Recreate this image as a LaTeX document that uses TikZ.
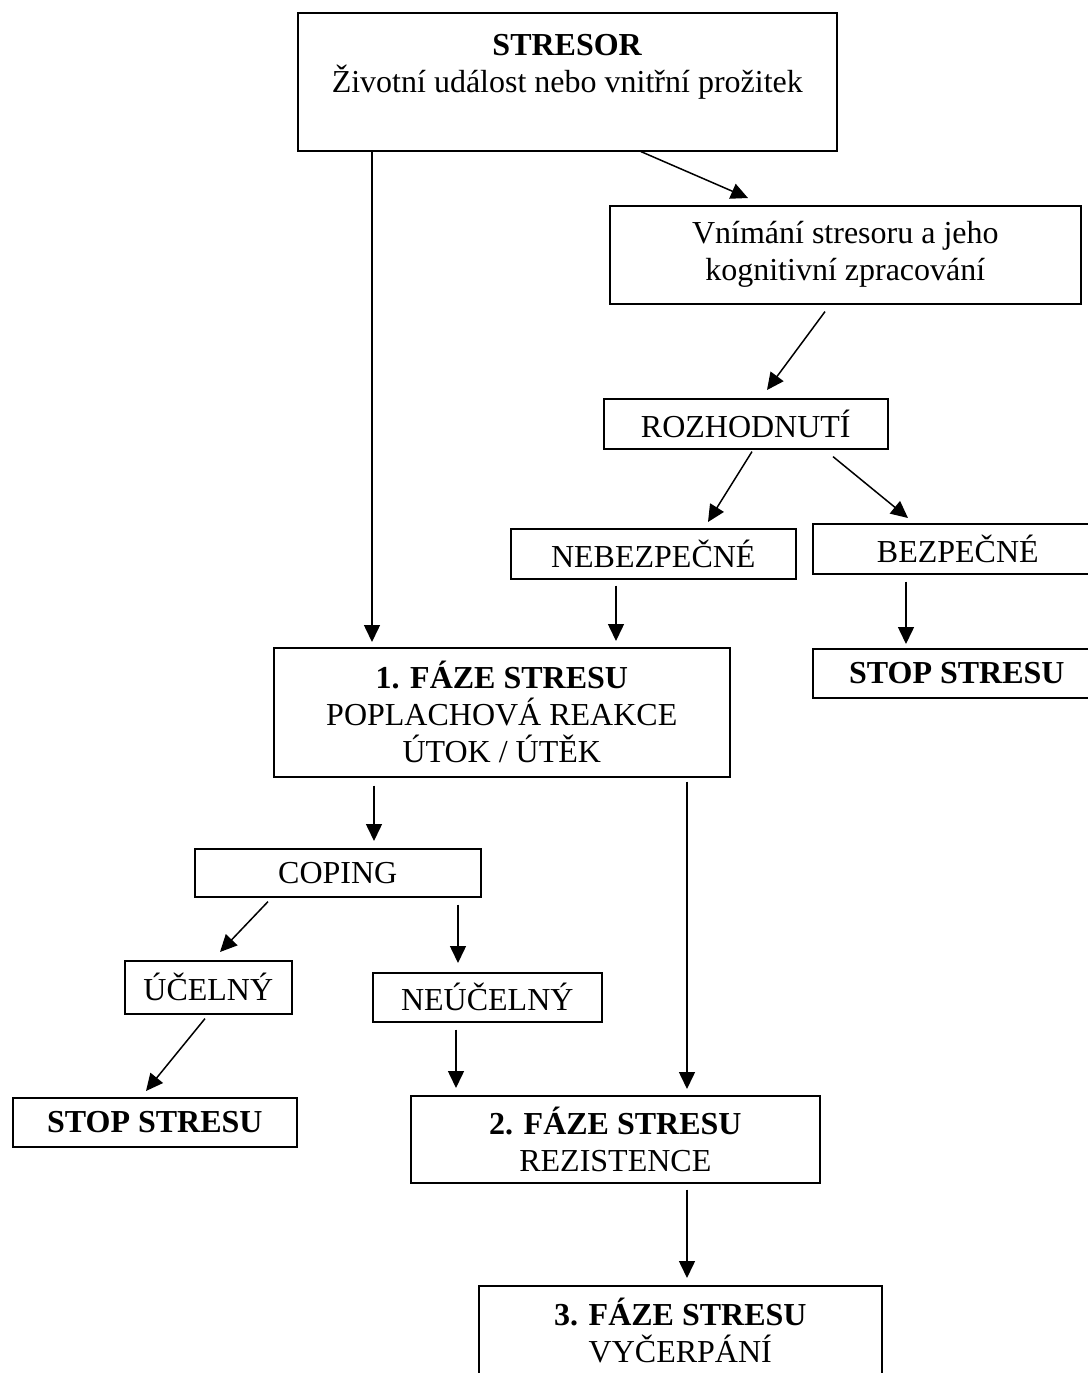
\documentclass[tikz,border=0pt]{standalone}
\usepackage{fontspec}
\setmainfont{Liberation Serif}
\usetikzlibrary{arrows.meta}
\newcommand{\TikZscale}{0.5}
\newcommand{\px}{*\TikZscale pt}
\tikzset{every picture/.style={>={Triangle[length=8.5pt,width=8pt]}}}
\tikzstyle{to}  = [->, line width=0.75pt]
\tikzstyle{box} = [draw, line width=0.8pt, anchor=north west, align=center, inner sep=0pt, font=\fontsize{16}{18.5}\selectfont]

\begin{document}
\begin{tikzpicture}
	\useasboundingbox (0,0) rectangle (1088\px,-1373\px);

	% Stresor a jeho zpracovani
	\node[box, minimum width=539\px, minimum height=138\px] (stresor) at (297\px,-12\px) {\textbf{STRESOR}\\Životní událost nebo vnitřní prožitek\\ \mbox{}};
	\node[box, minimum width=471\px, minimum height=98\px] (vnimani) at (609\px,-205\px) {Vnímání stresoru a jeho\\kognitivní zpracování};
	\node[box, minimum width=284\px, minimum height=50\px] (rozhodnuti) at (603\px,-398\px) {ROZHODNUTÍ};
	\node[box, minimum width=285\px, minimum height=50\px] (nebezpecne) at (510\px,-528\px) {NEBEZPEČNÉ};
	\node[box, minimum width=290\px, minimum height=50\px] (bezpecne) at (812\px,-523\px) {BEZPEČNÉ};
	\node[box, minimum width=288\px, minimum height=49\px] (stopR) at (812\px,-648\px) {\textbf{STOP STRESU}};

	% Faze stresu
	\node[box, minimum width=456\px, minimum height=129\px] (faze1) at (273\px,-647\px) {\textbf{1. FÁZE STRESU}\\POPLACHOVÁ REAKCE\\ÚTOK / ÚTĚK};
	\node[box, minimum width=286\px, minimum height=48\px] (coping) at (194\px,-848\px) {COPING};
	\node[box, minimum width=167\px, minimum height=53\px] (ucelny) at (124\px,-960\px) {ÚČELNÝ};
	\node[box, minimum width=229\px, minimum height=49\px] (neucelny) at (372\px,-972\px) {NEÚČELNÝ};
	\node[box, minimum width=284\px, minimum height=49\px] (stopL) at (12\px,-1097\px) {\textbf{STOP STRESU}};
	\node[box, minimum width=409\px, minimum height=87\px] (faze2) at (410\px,-1095\px) {\textbf{2. FÁZE STRESU}\\REZISTENCE};
	\node[box, minimum width=403\px, minimum height=126\px] (faze3) at (478\px,-1285\px) {\textbf{3. FÁZE STRESU}\\VYČERPÁNÍ\\ \mbox{}};

	% Sipky
	\draw[to] ([xshift=75\px]stresor.south west) -- ([xshift=99\px,yshift=5\px]faze1.north west);
	\draw[to] ([xshift=344\px]stresor.south west) -- ([xshift=139\px,yshift=7\px]vnimani.north west);
	\draw[to] ([xshift=216\px,yshift=-7\px]vnimani.south west) -- ([xshift=164\px,yshift=8\px]rozhodnuti.north west);
	\draw[to] ([xshift=149\px,yshift=-2\px]rozhodnuti.south west) -- ([xshift=198\px,yshift=6\px]nebezpecne.north west);
	\draw[to] ([xshift=230\px,yshift=-7\px]rozhodnuti.south west) -- ([xshift=96\px,yshift=5\px]bezpecne.north west);
	\draw[to] ([xshift=106\px,yshift=-6\px]nebezpecne.south west) -- ([xshift=343\px,yshift=6\px]faze1.north west);
	\draw[to] ([xshift=94\px,yshift=-7\px]bezpecne.south west) -- ([xshift=94\px,yshift=4\px]stopR.north west);
	\draw[to] ([xshift=101\px,yshift=-8\px]faze1.south west) -- ([xshift=180\px,yshift=7\px]coping.north west);
	\draw[to] ([xshift=414\px,yshift=-4\px]faze1.south west) -- ([xshift=277\px,yshift=6\px]faze2.north west);
	\draw[to] ([xshift=74\px,yshift=-4\px]coping.south west) -- ([xshift=96\px,yshift=8\px]ucelny.north west);
	\draw[to] ([xshift=264\px,yshift=-7\px]coping.south west) -- ([xshift=86\px,yshift=9\px]neucelny.north west);
	\draw[to] ([xshift=81\px,yshift=-4\px]ucelny.south west) -- ([xshift=134\px,yshift=6\px]stopL.north west);
	\draw[to] ([xshift=84\px,yshift=-7\px]neucelny.south west) -- ([xshift=46\px,yshift=7\px]faze2.north west);
	\draw[to] ([xshift=277\px,yshift=-6\px]faze2.south west) -- ([xshift=209\px,yshift=7\px]faze3.north west);
\end{tikzpicture}
\end{document}
